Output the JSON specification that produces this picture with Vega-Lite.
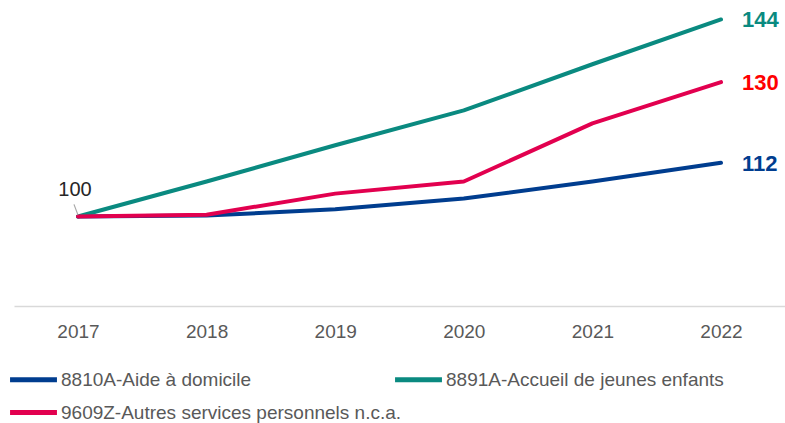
{
  "$schema": "https://vega.github.io/schema/vega-lite/v6.json",
  "width": 771,
  "height": 306,
  "autosize": {"type": "none"},
  "padding": {"left": 14, "top": 0, "right": 0, "bottom": 117},
  "background": "white",
  "config": {
    "view": {"stroke": null},
    "font": "Liberation Sans"
  },
  "data": {
    "values": [
      {"year": "2017", "series": "8810A-Aide à domicile", "value": 100},
      {"year": "2018", "series": "8810A-Aide à domicile", "value": 100.2},
      {"year": "2019", "series": "8810A-Aide à domicile", "value": 101.6},
      {"year": "2020", "series": "8810A-Aide à domicile", "value": 104},
      {"year": "2021", "series": "8810A-Aide à domicile", "value": 107.8},
      {"year": "2022", "series": "8810A-Aide à domicile", "value": 112},
      {"year": "2017", "series": "8891A-Accueil de jeunes enfants", "value": 100},
      {"year": "2018", "series": "8891A-Accueil de jeunes enfants", "value": 107.8},
      {"year": "2019", "series": "8891A-Accueil de jeunes enfants", "value": 115.9},
      {"year": "2020", "series": "8891A-Accueil de jeunes enfants", "value": 123.7},
      {"year": "2021", "series": "8891A-Accueil de jeunes enfants", "value": 134},
      {"year": "2022", "series": "8891A-Accueil de jeunes enfants", "value": 144},
      {"year": "2017", "series": "9609Z-Autres services personnels n.c.a.", "value": 100},
      {"year": "2018", "series": "9609Z-Autres services personnels n.c.a.", "value": 100.4},
      {"year": "2019", "series": "9609Z-Autres services personnels n.c.a.", "value": 105.1},
      {"year": "2020", "series": "9609Z-Autres services personnels n.c.a.", "value": 107.8},
      {"year": "2021", "series": "9609Z-Autres services personnels n.c.a.", "value": 120.8},
      {"year": "2022", "series": "9609Z-Autres services personnels n.c.a.", "value": 130}
    ]
  },
  "encoding": {
    "x": {
      "field": "year", "type": "ordinal",
      "scale": {"type": "point", "padding": 0.4977},
      "axis": {
        "title": null, "labelAngle": 0, "ticks": false,
        "domainColor": "#d9d9d9", "domainWidth": 1.5,
        "labelFontSize": 19, "labelColor": "#595959", "labelPadding": 16
      }
    },
    "y": {
      "field": "value", "type": "quantitative",
      "scale": {"domain": [80, 148.35], "nice": false, "zero": false},
      "axis": null
    }
  },
  "layer": [
    {
      "mark": {"type": "line", "strokeWidth": 4, "strokeCap": "round", "strokeJoin": "round"},
      "encoding": {
        "color": {
          "field": "series", "type": "nominal",
          "scale": {
            "domain": ["8810A-Aide à domicile", "8891A-Accueil de jeunes enfants", "9609Z-Autres services personnels n.c.a."],
            "range": ["#003D8F", "#0A8A80", "#E2004F"]
          },
          "legend": {
            "title": null, "orient": "none", "legendX": 5, "legendY": 365,
            "columns": 2, "direction": "horizontal",
            "symbolType": "M-2,0H2", "symbolStrokeWidth": 5, "symbolSize": 550,
            "symbolFillColor": "transparent",
            "labelFontSize": 19, "labelColor": "#595959", "labelOffset": 13,
            "columnPadding": -17, "rowPadding": 8, "labelLimit": 400
          }
        }
      }
    },
    {
      "transform": [{"filter": "datum.year == '2022'"}],
      "mark": {"type": "text", "align": "left", "baseline": "middle", "dx": 21, "dy": 1, "fontSize": 22, "fontWeight": "bold"},
      "encoding": {
        "text": {"field": "value", "type": "quantitative", "format": ".0f"},
        "color": {
          "field": "series", "type": "nominal",
          "scale": {
            "domain": ["8810A-Aide à domicile", "8891A-Accueil de jeunes enfants", "9609Z-Autres services personnels n.c.a."],
            "range": ["#003D8F", "#0A8A80", "#FF0000"]
          },
          "legend": null
        }
      }
    },
    {
      "transform": [{"filter": "datum.year == '2017' && datum.series == '8810A-Aide à domicile'"}],
      "mark": {"type": "rule", "color": "#a6a6a6", "strokeWidth": 1.2, "xOffset": -4, "x2Offset": 0},
      "encoding": {
        "y": {"datum": 102.7},
        "y2": {"datum": 100.3},
        "x2": {"field": "year"}
      }
    },
    {
      "transform": [{"filter": "datum.year == '2017' && datum.series == '8810A-Aide à domicile'"}],
      "mark": {"type": "text", "align": "center", "baseline": "middle", "dx": -3, "dy": -26, "fontSize": 20, "color": "#262626"},
      "encoding": {
        "text": {"field": "value", "type": "quantitative", "format": ".0f"}
      }
    }
  ],
  "resolve": {"scale": {"color": "independent"}}
}
